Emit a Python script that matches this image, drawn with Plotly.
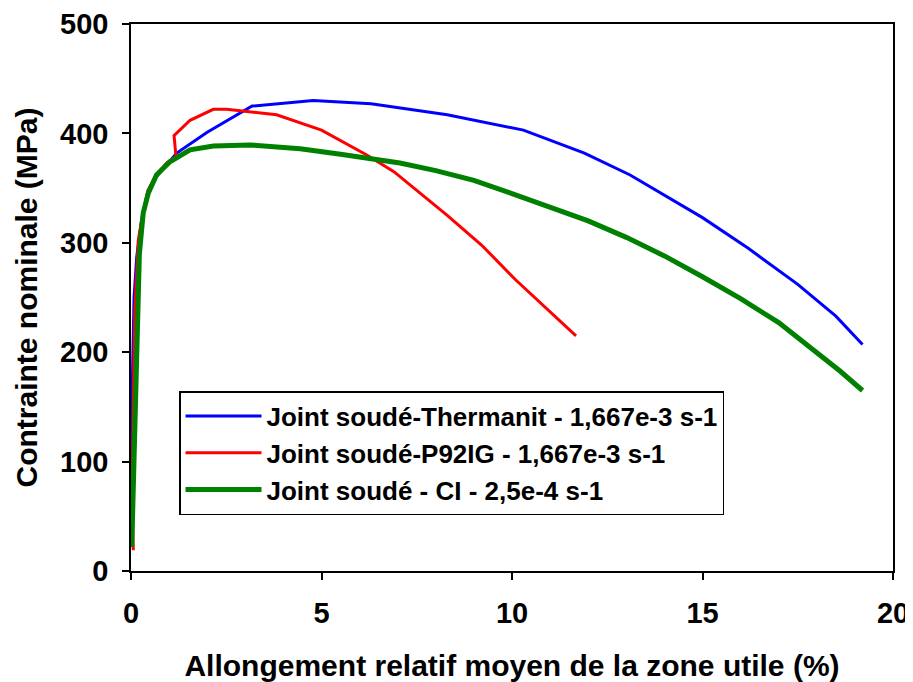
import plotly.graph_objects as go

# Joint soudé - Thermanit, 1,667e-3 s-1
x_thermanit = [0.03, 0.04, 0.08, 0.15, 0.28, 0.45, 0.63, 0.94, 1.2, 2.0, 3.18, 4.78,
               6.3, 8.3, 10.3, 11.9, 13.1, 15.0, 16.2, 17.5, 18.5, 19.2]
y_thermanit = [79, 180, 250, 287, 321, 348, 359, 371, 382, 401, 425, 430,
               427, 417, 403, 382, 362, 323, 295, 262, 233, 207]

# Joint soudé - P92IG, 1,667e-3 s-1
x_p92ig = [0.06, 0.03, 0.06, 0.1, 0.19, 0.31, 0.45, 0.63, 0.94, 1.18, 1.13, 1.55,
           2.16, 2.51, 3.82, 5.0, 6.2, 6.9, 8.3, 9.2, 10.1, 11.0, 11.68]
y_p92ig = [19, 60, 150, 236, 302, 327, 348, 360, 373, 379, 398, 412,
           422, 422, 417, 403, 380, 365, 325, 298, 266, 237, 215]

# Joint soudé - CI, 2,5e-4 s-1
x_ci = [0.02, 0.06, 0.1, 0.15, 0.22, 0.32, 0.45, 0.67, 1.02, 1.55, 2.16, 3.12,
        4.44, 5.5, 7.06, 8.0, 9.0, 10.0, 11.0, 12.0, 13.0, 14.0, 15.0, 16.0,
        17.0, 18.0, 18.6, 19.2]
y_ci = [22, 80, 159, 236, 290, 327, 345, 362, 374, 385, 388.5, 389.5,
        386, 381, 373, 366, 357, 345, 333, 320, 305, 288, 269, 249,
        227, 200, 183, 165]

names = ["Joint soudé-Thermanit - 1,667e-3 s-1",
         "Joint soudé-P92IG - 1,667e-3 s-1",
         "Joint soudé - CI - 2,5e-4 s-1"]

x_ticks = [0, 5, 10, 15, 20]
y_ticks = [0, 100, 200, 300, 400, 500]

font_family = "Liberation Sans, Arial, sans-serif"

fig = go.Figure()
fig.add_trace(go.Scatter(x=x_thermanit, y=y_thermanit, mode="lines", name=names[0],
                         line=dict(color="#0000FF", width=3)))
fig.add_trace(go.Scatter(x=x_p92ig, y=y_p92ig, mode="lines", name=names[1],
                         line=dict(color="#FF0000", width=3)))
fig.add_trace(go.Scatter(x=x_ci, y=y_ci, mode="lines", name=names[2],
                         line=dict(color="#008000", width=5)))

axis_common = dict(
    showgrid=False, zeroline=False, automargin=False,
    showline=True, linecolor="black", linewidth=1.5, mirror=True,
    ticks="outside", ticklen=7, tickwidth=1.5, tickcolor="black",
    ticklabeloverflow="allow",
    tickfont=dict(family=font_family, size=29, color="black", weight="bold"),
)

fig.update_xaxes(range=[0, 20], tickvals=x_ticks, ticklabelstandoff=8,
                 title=dict(text="<b>Allongement relatif moyen de la zone utile (%)</b>",
                            font=dict(family=font_family, size=30, color="black"),
                            standoff=28),
                 **axis_common)
fig.update_yaxes(range=[0, 500], tickvals=y_ticks, ticklabelstandoff=8,
                 title=dict(text="<b>Contrainte nominale (MPa)</b>",
                            font=dict(family=font_family, size=30, color="black"),
                            standoff=14),
                 **axis_common)

# page body adds an 8px offset, so the figure is a bit smaller than the window
fig.update_layout(
    width=905, height=674,
    margin=dict(l=123, r=20, t=16, b=111),
    plot_bgcolor="white", paper_bgcolor="white",
    showlegend=True,
    legend=dict(x=0.063, y=0.329, xanchor="left", yanchor="top",
                bgcolor="white", bordercolor="black", borderwidth=1.5,
                font=dict(family=font_family, size=26, color="black", weight="bold"),
                tracegroupgap=0, itemwidth=76),
)

fig.write_html("out.html")
